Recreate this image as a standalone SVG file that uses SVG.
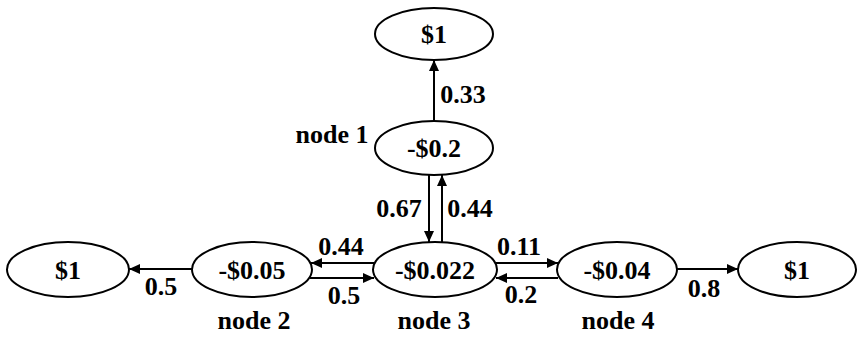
<svg xmlns="http://www.w3.org/2000/svg" width="857" height="337" viewBox="0 0 857 337">
  <style>
    .node ellipse { fill: #ffffff; stroke: #000000; stroke-width: 2; }
    .c { text-anchor: middle; }
    .edge { stroke: #000000; stroke-width: 2; fill: none; marker-end: url(#arrow); }
  </style>
  <defs>
    <marker id="arrow" markerUnits="userSpaceOnUse" markerWidth="11" markerHeight="10" refX="11" refY="5" orient="auto">
      <path d="M0,0 L11,5 L0,10 z" fill="#000000"/>
    </marker>
  </defs>
  <rect width="857" height="337" fill="#ffffff"/>

  <!-- connectors -->
  <g id="connectors">
    <line class="edge" x1="434" y1="121" x2="434" y2="60"/>
    <line class="edge" x1="429" y1="175" x2="429" y2="242"/>
    <line class="edge" x1="442" y1="242" x2="442" y2="175"/>
    <line class="edge" x1="192" y1="269" x2="129" y2="269"/>
    <line class="edge" x1="374" y1="263" x2="311" y2="263"/>
    <line class="edge" x1="310" y1="278" x2="374" y2="278"/>
    <line class="edge" x1="496" y1="263" x2="558" y2="263"/>
    <line class="edge" x1="558" y1="278" x2="496" y2="278"/>
    <line class="edge" x1="677" y1="269" x2="738" y2="269"/>
  </g>

  <g font-family="'Liberation Serif', 'Times New Roman', 'DejaVu Serif', serif" font-weight="bold" font-size="26" fill="#000000">
    <!-- edge labels -->
    <g id="edge-labels">
      <text class="c" x="463" y="103">0.33</text>
      <text class="c" x="399" y="217">0.67</text>
      <text class="c" x="470" y="217">0.44</text>
      <text class="c" x="341" y="255">0.44</text>
      <text class="c" x="161" y="295">0.5</text>
      <text class="c" x="344" y="304">0.5</text>
      <text class="c" x="519" y="255">0.11</text>
      <text class="c" x="521" y="303">0.2</text>
      <text class="c" x="704" y="297">0.8</text>
    </g>

    <g id="sink-top" class="node">
      <ellipse cx="434" cy="34" rx="59" ry="26"/>
      <text class="c" x="434" y="43">$1</text>
    </g>

    <g id="node1" class="node">
      <ellipse cx="434" cy="148" rx="59" ry="27"/>
      <text class="c" x="434" y="157">-$0.2</text>
      <text class="c" x="332" y="143">node 1</text>
    </g>

    <g id="sink-left" class="node">
      <ellipse cx="68" cy="269.5" rx="61" ry="27.5"/>
      <text class="c" x="68" y="278.5">$1</text>
    </g>

    <g id="node2" class="node">
      <ellipse cx="252" cy="269.5" rx="60" ry="27.5"/>
      <text class="c" x="252" y="278.5">-$0.05</text>
      <text class="c" x="254" y="329">node 2</text>
    </g>

    <g id="node3" class="node">
      <ellipse cx="435" cy="269.5" rx="62" ry="27.5"/>
      <text class="c" x="435" y="278.5">-$0.022</text>
      <text class="c" x="434" y="329">node 3</text>
    </g>

    <g id="node4" class="node">
      <ellipse cx="617" cy="269.5" rx="60" ry="27.5"/>
      <text class="c" x="617" y="278.5">-$0.04</text>
      <text class="c" x="618" y="329">node 4</text>
    </g>

    <g id="sink-right" class="node">
      <ellipse cx="797" cy="269.5" rx="59" ry="27.5"/>
      <text class="c" x="797" y="278.5">$1</text>
    </g>
  </g>
</svg>
